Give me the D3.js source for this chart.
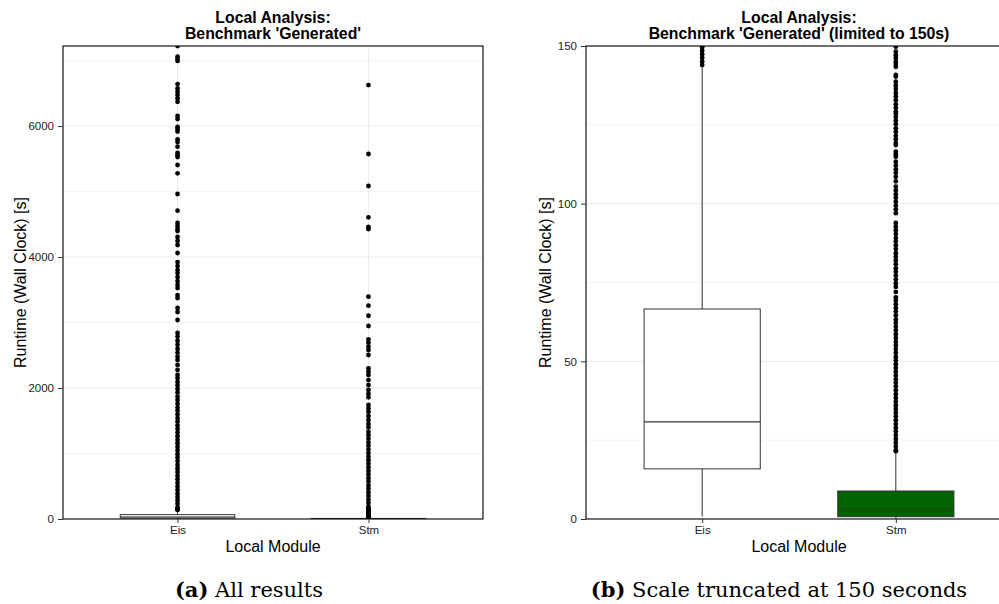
<!DOCTYPE html>
<html>
<head>
<meta charset="utf-8">
<script src="https://cdn.jsdelivr.net/npm/d3@7"></script>
<style>
  body { margin: 0; background: #fff; }
  svg { display: block; }
  text { font-family: "Liberation Sans", Arial, sans-serif; }
  .caption { font-family: "DejaVu Serif", serif; font-size: 21px; }
</style>
</head>
<body>
<svg id="chart" width="999" height="604"></svg>
<script>
// Modules on the x axis
var modules = ["Eis", "Stm"];
var boxFills = ["#ffffff", "#006400"];

// Box statistics per module, seconds
var lowerWhisker = [0.8, 0.2];
var lowerQuartile = [15.9, 0.73];
var medians = [30.8, 2.85];
var upperQuartile = [66.6, 8.88];
var upperWhisker = [143.4, 21.3];

// Outliers, seconds
var eisOutliers = [
  7223, 7060, 7030, 6995, 6642, 6576, 6525, 6475, 6424, 6372, 6154, 6108,
  5986, 5956, 5917, 5798, 5757, 5685, 5589, 5559, 5528, 5406, 5279, 4963,
  4708, 4520, 4474, 4428, 4398, 4306, 4245, 4184, 4062, 3924, 3863, 3802,
  3756, 3695, 3634, 3573, 3527, 3420, 3375, 3222, 3161, 3039, 2840, 2785,
  2722, 2661, 2598, 2541, 2480, 2428, 2352, 2275, 2199, 2153, 2092, 2041,
  1985, 1932, 1870, 1818, 1760, 1702, 1655, 1598, 1541, 1489, 1430, 1377,
  1322, 1265, 1210, 1158, 1101, 1047, 990, 938, 884, 826, 772, 719,
  661, 608, 553, 497, 443, 389, 337, 283, 231, 178,
  149.6, 148.5, 147.4, 146.3, 145.1, 144.0
];
var stmOutliers = [
  6627, 5574, 5085, 4607, 4459, 4428, 3395, 3257, 3104, 2947, 2744, 2692,
  2631, 2581, 2504, 2301, 2249, 2199, 2122, 2046, 1970, 1909, 1858, 1741,
  1690, 1638, 1573, 1512, 1451, 1400, 1333, 1281, 1226, 1170, 1118, 1062,
  1007, 951, 898, 842, 789, 733, 680, 624, 571, 515, 462, 406,
  353, 297, 244, 190,
  149.8, 148.2, 147.1, 146.2, 145.0, 144.3, 143.4, 140.8, 140.3,
  138.7, 137.5, 136.4, 135.1, 134.0, 132.8, 131.5, 130.4, 129.2,
  128.6, 127.5, 126.3, 125.2, 123.9, 122.8, 121.5, 120.4, 119.2, 118.6,
  116.5, 115.7, 114.9,
  113.3, 112.1, 110.9, 109.8, 108.5, 107.1,
  105.4, 104.2, 103.0, 101.9, 100.6, 99.4, 98.2, 97.0,
  93.9, 92.7, 91.6, 90.4, 89.1, 88.0, 86.8, 85.6, 84.3, 83.2, 82.0, 80.8,
  79.5, 78.4, 77.2, 76.0, 74.8, 73.6, 72.0,
  70.3, 69.3, 68.1, 66.9, 65.8, 64.6, 63.3, 62.2, 61.0, 59.8, 58.6, 57.4,
  56.2, 55.1, 53.9, 52.7, 51.4, 50.3, 49.1, 47.9, 46.7, 45.5, 44.3, 43.2,
  42.0, 40.8, 39.6, 38.4, 37.2, 36.1, 34.9, 33.7, 32.5, 31.3, 30.1, 28.9,
  27.8, 26.6, 25.4, 24.2, 23.0, 21.8, 21.5
];

// Axis ticks
var fullTicks = [0, 2000, 4000, 6000];
var fullMinor = [1000, 3000, 5000, 7000];
var cutTicks = [0, 50, 100, 150];
var cutMinor = [25, 75, 125];
var cutLimit = 150;

var svg = d3.select("#chart");
svg.append("rect").attr("width", 999).attr("height", 604).attr("fill", "#fff");

var boxes = modules.map(function (m, i) {
  return {
    name: m, fill: boxFills[i],
    lo: lowerWhisker[i], q1: lowerQuartile[i], med: medians[i],
    q3: upperQuartile[i], hi: upperWhisker[i]
  };
});
var points = eisOutliers.map(function (v) { return { name: "Eis", value: v }; })
  .concat(stmOutliers.map(function (v) { return { name: "Stm", value: v }; }));

function drawPanel(p) {
  var g = svg.append("g");
  var x = d3.scalePoint().domain(modules).range([p.x0, p.x1]).padding(0.6);
  var y = d3.scaleLinear().domain([0, p.yMax]).range([p.y1, p.y0]);
  var boxW = x.step() * 0.6;

  svg.append("clipPath").attr("id", p.id)
    .append("rect")
    .attr("x", p.x0).attr("y", p.y0)
    .attr("width", p.x1 - p.x0).attr("height", p.y1 - p.y0);

  var plot = g.append("g").attr("clip-path", "url(#" + p.id + ")");

  // Grid lines
  plot.selectAll(".minor").data(p.minor).enter().append("line")
    .attr("x1", p.x0).attr("x2", p.x1)
    .attr("y1", function (d) { return y(d); }).attr("y2", function (d) { return y(d); })
    .attr("stroke", "#ebebeb").attr("stroke-width", 0.6);
  plot.selectAll(".major").data(p.ticks).enter().append("line")
    .attr("x1", p.x0).attr("x2", p.x1)
    .attr("y1", function (d) { return y(d); }).attr("y2", function (d) { return y(d); })
    .attr("stroke", "#ebebeb").attr("stroke-width", 1);
  plot.selectAll(".vgrid").data(modules).enter().append("line")
    .attr("x1", function (d) { return x(d); }).attr("x2", function (d) { return x(d); })
    .attr("y1", p.y0).attr("y2", p.y1)
    .attr("stroke", "#ebebeb").attr("stroke-width", 1);

  // Whiskers
  var bg = plot.selectAll(".box").data(boxes).enter().append("g");
  bg.append("line")
    .attr("x1", function (d) { return x(d.name); }).attr("x2", function (d) { return x(d.name); })
    .attr("y1", function (d) { return y(d.hi); }).attr("y2", function (d) { return y(d.q3); })
    .attr("stroke", "#333").attr("stroke-width", 1);
  bg.append("line")
    .attr("x1", function (d) { return x(d.name); }).attr("x2", function (d) { return x(d.name); })
    .attr("y1", function (d) { return y(d.q1); }).attr("y2", function (d) { return y(d.lo); })
    .attr("stroke", "#333").attr("stroke-width", 1);

  // Boxes
  bg.append("rect")
    .attr("x", function (d) { return x(d.name) - boxW / 2; })
    .attr("width", boxW)
    .attr("y", function (d) { return y(d.q3); })
    .attr("height", function (d) { return y(d.q1) - y(d.q3); })
    .attr("fill", function (d) { return d.fill; })
    .attr("stroke", "#333").attr("stroke-width", 1);
  bg.append("line")
    .attr("x1", function (d) { return x(d.name) - boxW / 2; })
    .attr("x2", function (d) { return x(d.name) + boxW / 2; })
    .attr("y1", function (d) { return y(d.med); }).attr("y2", function (d) { return y(d.med); })
    .attr("stroke", "#333").attr("stroke-width", 1.2);

  // Outliers
  plot.selectAll(".pt").data(points).enter().append("circle")
    .attr("cx", function (d) { return x(d.name); })
    .attr("cy", function (d) { return y(d.value); })
    .attr("r", 2.4)
    .attr("fill", "#000");

  // Panel border
  g.append("rect")
    .attr("x", p.x0).attr("y", p.y0)
    .attr("width", p.x1 - p.x0).attr("height", p.y1 - p.y0)
    .attr("fill", "none").attr("stroke", "#000").attr("stroke-width", 1.1);

  // Axes
  var ya = g.append("g").attr("transform", "translate(" + p.x0 + ",0)")
    .call(d3.axisLeft(y).tickValues(p.ticks).tickSize(5).tickPadding(4).tickFormat(d3.format("d")));
  var xa = g.append("g").attr("transform", "translate(0," + p.y1 + ")")
    .call(d3.axisBottom(x).tickSize(4).tickPadding(3));
  [ya, xa].forEach(function (a) {
    a.select(".domain").remove();
    a.selectAll(".tick line").attr("stroke", "#333");
    a.selectAll(".tick text").attr("fill", "#222")
      .style("font-family", "Liberation Sans, Arial, sans-serif").style("font-size", "11.5px");
  });

  var cx = (p.x0 + p.x1) / 2;
  // Titles
  g.append("text").attr("x", cx).attr("y", 22.5).attr("text-anchor", "middle")
    .style("font-weight", "bold").style("font-size", "15.8px").text("Local Analysis:");
  g.append("text").attr("x", cx).attr("y", 39.3).attr("text-anchor", "middle")
    .style("font-weight", "bold").style("font-size", "15.8px").text(p.title);
  g.append("text").attr("x", cx).attr("y", 552).attr("text-anchor", "middle")
    .style("font-size", "16px").text("Local Module");
  g.append("text")
    .attr("transform", "translate(" + p.yLabelX + "," + (p.y0 + p.y1) / 2 + ") rotate(-90)")
    .attr("dy", "0.3em").attr("text-anchor", "middle")
    .style("font-size", "16px").text("Runtime (Wall Clock) [s]");

  // Caption
  var cap = svg.append("text").attr("class", "caption")
    .attr("x", p.capX).attr("y", 597).attr("text-anchor", "middle");
  cap.append("tspan").style("font-weight", "bold").text(p.capTag);
  cap.append("tspan").text(" " + p.capText);
}

drawPanel({
  id: "clipFull", x0: 63, x1: 483, y0: 46, y1: 519,
  yMax: d3.max(points, function (d) { return d.value; }),
  ticks: fullTicks, minor: fullMinor,
  title: "Benchmark 'Generated'", yLabelX: 21,
  capX: 249, capTag: "(a)", capText: "All results"
});
drawPanel({
  id: "clipCut", x0: 586, x1: 1012, y0: 46, y1: 519,
  yMax: cutLimit,
  ticks: cutTicks, minor: cutMinor,
  title: "Benchmark 'Generated' (limited to 150s)", yLabelX: 546,
  capX: 779, capTag: "(b)", capText: "Scale truncated at 150 seconds"
});
</script>
</body>
</html>
